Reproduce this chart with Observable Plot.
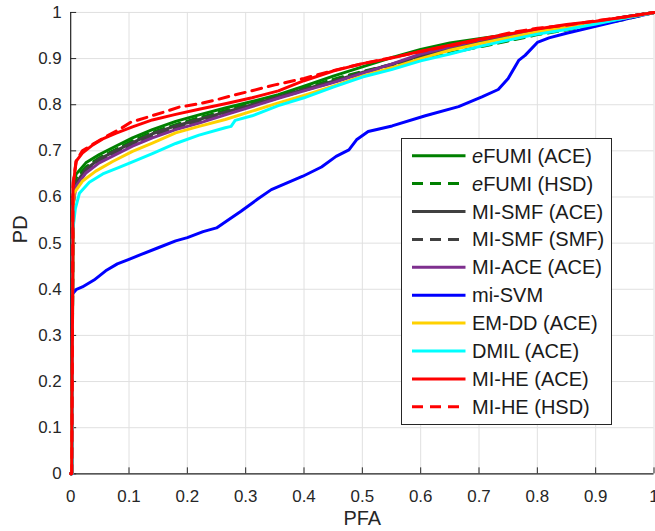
<!DOCTYPE html>
<html>
<head>
<meta charset="utf-8">
<script src="https://cdn.jsdelivr.net/npm/d3@7"></script>
<script src="https://cdn.jsdelivr.net/npm/@observablehq/plot@0.6"></script>
<style>
  html, body { margin: 0; padding: 0; overflow: hidden; background: #fff; }
  #wrap { position: relative; width: 655px; height: 531px; overflow: hidden; }
  #legend { position: absolute; left: 401px; top: 138px; }
</style>
</head>
<body>
<div id="wrap"></div>
<script>
// ---------- data ----------
const xTicks = [0, 0.1, 0.2, 0.3, 0.4, 0.5, 0.6, 0.7, 0.8, 0.9, 1];
const yTicks = [0, 0.1, 0.2, 0.3, 0.4, 0.5, 0.6, 0.7, 0.8, 0.9, 1];
const seriesNames = ["eFUMI (ACE)", "eFUMI (HSD)", "MI-SMF (ACE)", "MI-SMF (SMF)", "MI-ACE (ACE)",
                     "mi-SVM", "EM-DD (ACE)", "DMIL (ACE)", "MI-HE (ACE)", "MI-HE (HSD)"];

const stdX = [0, 0.002, 0.004, 0.009, 0.026, 0.049, 0.077, 0.106, 0.14, 0.18, 0.22, 0.265, 0.311, 0.356,
              0.40, 0.45, 0.50, 0.55, 0.60, 0.65, 0.70, 0.75, 0.80, 0.85, 0.90, 0.95, 1];

const efumiAceX = stdX;
const efumiAceY = [0, 0, 0.60, 0.649, 0.674, 0.692, 0.71, 0.728, 0.746, 0.764, 0.778, 0.793, 0.807, 0.822,
                   0.84, 0.862, 0.882, 0.902, 0.92, 0.934, 0.943, 0.952, 0.962, 0.97, 0.979, 0.99, 1];

const efumiHsdX = stdX;
const efumiHsdY = [0, 0, 0.59, 0.64, 0.665, 0.685, 0.703, 0.722, 0.74, 0.757, 0.772, 0.787, 0.802, 0.818,
                   0.835, 0.855, 0.872, 0.887, 0.899, 0.912, 0.925, 0.938, 0.952, 0.962, 0.973, 0.985, 1];

const miSmfAceX = stdX;
const miSmfAceY = [0, 0, 0.585, 0.63, 0.66, 0.682, 0.7, 0.718, 0.737, 0.754, 0.768, 0.784, 0.8, 0.817,
                   0.833, 0.851, 0.87, 0.888, 0.906, 0.922, 0.937, 0.95, 0.96, 0.968, 0.978, 0.99, 1];

const miSmfSmfX = stdX;
const miSmfSmfY = [0, 0, 0.582, 0.627, 0.656, 0.678, 0.696, 0.714, 0.732, 0.75, 0.764, 0.781, 0.798, 0.815,
                   0.831, 0.849, 0.868, 0.886, 0.904, 0.92, 0.935, 0.948, 0.958, 0.967, 0.977, 0.989, 1];

const miAceX = stdX;
const miAceY = [0, 0, 0.58, 0.623, 0.652, 0.674, 0.692, 0.71, 0.728, 0.746, 0.76, 0.778, 0.796, 0.814,
                0.83, 0.848, 0.868, 0.888, 0.91, 0.925, 0.94, 0.952, 0.96, 0.968, 0.978, 0.99, 1];

const miSvmX = [0, 0.003, 0.003, 0.01, 0.02, 0.04, 0.06, 0.08, 0.1, 0.12, 0.15, 0.18, 0.2, 0.227, 0.25, 0.27,
                0.292, 0.32, 0.344, 0.37, 0.398, 0.43, 0.455, 0.477, 0.49, 0.51, 0.551, 0.608, 0.665, 0.705,
                0.733, 0.75, 0.768, 0.779, 0.80, 0.82, 0.85, 0.9, 0.95, 1];
const miSvmY = [0, 0, 0.39, 0.40, 0.405, 0.42, 0.44, 0.455, 0.465, 0.475, 0.49, 0.505, 0.512, 0.525, 0.533, 0.55,
                0.569, 0.595, 0.616, 0.63, 0.645, 0.665, 0.688, 0.702, 0.724, 0.742, 0.754, 0.776, 0.796, 0.817,
                0.833, 0.857, 0.896, 0.907, 0.935, 0.945, 0.955, 0.97, 0.985, 1];

const emddX = [0, 0.002, 0.004, 0.006, 0.02, 0.043, 0.072, 0.106, 0.14, 0.18, 0.22, 0.265, 0.311, 0.356,
               0.40, 0.45, 0.50, 0.55, 0.60, 0.65, 0.70, 0.75, 0.80, 0.85, 0.90, 0.95, 1];
const emddY = [0, 0, 0.57, 0.609, 0.634, 0.656, 0.677, 0.699, 0.717, 0.739, 0.753, 0.768, 0.786, 0.804,
               0.82, 0.84, 0.862, 0.88, 0.9, 0.918, 0.932, 0.945, 0.958, 0.968, 0.977, 0.988, 1];

const dmilX = [0, 0.003, 0.003, 0.008, 0.015, 0.032, 0.055, 0.083, 0.106, 0.14, 0.18, 0.22, 0.265, 0.275,
               0.282, 0.311, 0.356, 0.40, 0.45, 0.50, 0.55, 0.60, 0.65, 0.70, 0.75, 0.80, 0.85, 0.90, 0.95, 1];
const dmilY = [0, 0, 0.52, 0.575, 0.608, 0.632, 0.65, 0.664, 0.676, 0.694, 0.716, 0.734, 0.75, 0.753,
               0.766, 0.776, 0.798, 0.815, 0.838, 0.86, 0.876, 0.895, 0.91, 0.926, 0.94, 0.953, 0.963, 0.975, 0.988, 1];

const miheAceX = [0, 0.002, 0.004, 0.009, 0.02, 0.038, 0.055, 0.077, 0.106, 0.14, 0.18, 0.22, 0.265, 0.311,
                  0.356, 0.40, 0.45, 0.50, 0.55, 0.60, 0.65, 0.70, 0.75, 0.80, 0.85, 0.90, 0.95, 1];
const miheAceY = [0, 0, 0.62, 0.677, 0.695, 0.713, 0.726, 0.738, 0.752, 0.767, 0.779, 0.79, 0.802, 0.815,
                  0.83, 0.852, 0.873, 0.889, 0.901, 0.916, 0.929, 0.942, 0.953, 0.964, 0.974, 0.981, 0.99, 1];

const miheHsdX = [0, 0.002, 0.004, 0.01, 0.02, 0.04, 0.066, 0.083, 0.103, 0.134, 0.16, 0.186, 0.22, 0.248,
                  0.277, 0.31, 0.35, 0.40, 0.45, 0.50, 0.55, 0.60, 0.65, 0.70, 0.75, 0.80, 0.85, 0.90, 0.95, 1];
const miheHsdY = [0, 0, 0.63, 0.68, 0.70, 0.716, 0.735, 0.746, 0.762, 0.774, 0.784, 0.795, 0.802, 0.81,
                  0.82, 0.83, 0.843, 0.857, 0.874, 0.889, 0.902, 0.915, 0.928, 0.94, 0.955, 0.966, 0.972, 0.982, 0.99, 1];

// ---------- styles ----------
const seriesX = [efumiAceX, efumiHsdX, miSmfAceX, miSmfSmfX, miAceX, miSvmX, emddX, dmilX, miheAceX, miheHsdX];
const seriesY = [efumiAceY, efumiHsdY, miSmfAceY, miSmfSmfY, miAceY, miSvmY, emddY, dmilY, miheAceY, miheHsdY];
const seriesColors = ["#008000", "#008000", "#404040", "#404040", "#7E2F8E", "#0000FF", "#FFD100", "#00FFFF", "#FF0000", "#FF0000"];
const seriesDash = [null, "10,7", null, "10,7", null, null, null, null, null, "10,7"];

const rows = seriesNames.flatMap((name, k) => seriesX[k].map((x, i) => ({series: name, x, y: seriesY[k][i]})));

const axisColor = "#262626";
const lines = seriesNames.map((name, k) =>
  Plot.line(rows.filter(d => d.series === name), {
    x: "x", y: "y", stroke: seriesColors[k], strokeWidth: 3,
    strokeDasharray: seriesDash[k] ?? undefined, strokeLinejoin: "round"
  })
);

const fmt = d => String(d);
const chart = Plot.plot({
  width: 658, height: 531,
  marginLeft: 70.5, marginRight: 1.5, marginTop: 12, marginBottom: 55.5,
  style: {fontFamily: "'Liberation Sans', Arial, sans-serif", fontSize: "17px", color: axisColor, background: "#fff"},
  x: {domain: [0, 1], ticks: xTicks, label: null},
  y: {domain: [0, 1], ticks: yTicks, label: null},
  marks: [
    Plot.gridX(xTicks, {stroke: "#e0e0e0", strokeOpacity: 1}),
    Plot.gridY(yTicks, {stroke: "#e0e0e0", strokeOpacity: 1}),
    Plot.ruleX([0], {stroke: axisColor, strokeWidth: 1.2}),
    Plot.ruleY([0], {stroke: axisColor, strokeWidth: 1.2}),
    Plot.axisX(xTicks, {tickSize: -6, tickPadding: 22.5, tickFormat: fmt, stroke: axisColor, fill: axisColor, label: null}),
    Plot.axisY(yTicks, {tickSize: -6, tickPadding: 15, tickFormat: fmt, stroke: axisColor, fill: axisColor, label: null}),
    ...lines,
    Plot.text(["PFA"], {frameAnchor: "bottom", lineAnchor: "middle", dy: 44.5, fontSize: 20, fill: axisColor}),
    Plot.text(["PD"], {frameAnchor: "left", lineAnchor: "middle", dx: -50, rotate: -90, fontSize: 20, fill: axisColor})
  ]
});
document.getElementById("wrap").appendChild(chart);

// ---------- legend ----------
const lw = 211, lh = 287;
const leg = d3.select("#wrap").append("svg")
  .attr("id", "legend").attr("width", lw).attr("height", lh)
  .style("font-family", "'Liberation Sans', Arial, sans-serif").style("font-size", "20px");
leg.append("rect").attr("x", 0.5).attr("y", 0.5).attr("width", lw - 1).attr("height", lh - 1)
  .attr("fill", "#fff").attr("stroke", axisColor).attr("stroke-width", 1);
seriesNames.forEach((name, k) => {
  const cy = 17.7 + 27.9 * k;
  leg.append("line").attr("x1", 11).attr("x2", 64.5).attr("y1", cy).attr("y2", cy)
    .attr("stroke", seriesColors[k]).attr("stroke-width", 3)
    .attr("stroke-dasharray", seriesDash[k] ? "11,7" : null);
  const t = leg.append("text").attr("x", 71).attr("y", cy).attr("dy", "0.35em").attr("fill", "#1a1a1a");
  if (name.startsWith("eFUMI")) {
    t.append("tspan").attr("font-style", "italic").text("e");
    t.append("tspan").text(name.slice(1));
  } else {
    t.text(name);
  }
});
</script>
</body>
</html>
